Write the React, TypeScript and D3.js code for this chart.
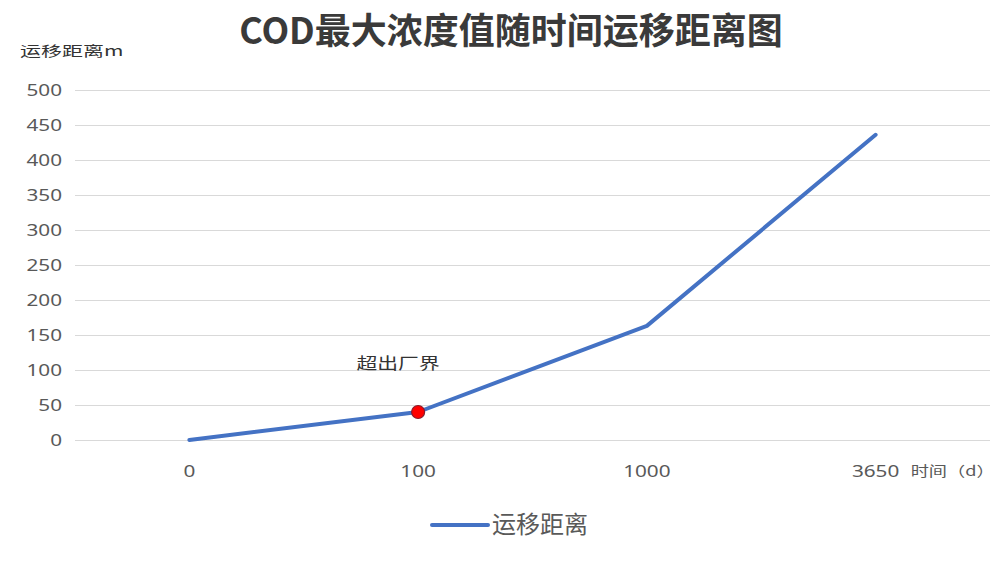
import React, { useEffect, useRef } from "react";
import * as d3 from "d3";

const categories = ["0", "100", "1000", "3650"];
const distance = [0, 40, 163, 436];
const yTicks = [0, 50, 100, 150, 200, 250, 300, 350, 400, 450, 500];
const highlightIndex = 1;
const highlightLabel = "超出厂界";
const seriesName = "运移距离";

const App: React.FC = () => {
  const svgRef = useRef<SVGSVGElement>(null);

  useEffect(() => {
    if (!svgRef.current) return;
    const width = 1000;
    const height = 561;
    const svg = d3.select(svgRef.current);
    svg.selectAll("*").remove();

    const margin = { top: 90, right: 10, bottom: 121, left: 75 };
    const chartWidth = width - margin.left - margin.right;
    const chartHeight = height - margin.top - margin.bottom;
    const font = "'Noto Sans', 'Noto Sans CJK SC', sans-serif";
    const cjk = "'Noto Sans CJK SC', 'Noto Sans', sans-serif";
    // the reference's small texts are drawn wider than normal
    const sx = 1.22;

    svg
      .append("rect")
      .attr("width", width)
      .attr("height", height)
      .attr("fill", "#fff");

    const g = svg
      .append("g")
      .attr("transform", `translate(${margin.left},${margin.top})`);

    const x = d3
      .scaleBand()
      .domain(categories)
      .range([0, chartWidth])
      .padding(0);

    const y = d3.scaleLinear().domain([0, 500]).range([chartHeight, 0]);

    // gridlines
    g.append("g")
      .selectAll("line")
      .data(yTicks)
      .enter()
      .append("line")
      .attr("x1", 0)
      .attr("x2", chartWidth)
      .attr("y1", (d) => Math.round(y(d)) + 0.5)
      .attr("y2", (d) => Math.round(y(d)) + 0.5)
      .attr("stroke", "#d9d9d9")
      .attr("stroke-width", 1);

    // y axis labels
    g.append("g")
      .selectAll("text")
      .data(yTicks)
      .enter()
      .append("text")
      .attr("transform", (d) => `translate(-13,${y(d)}) scale(${sx},1)`)
      .attr("dy", "0.35em")
      .attr("text-anchor", "end")
      .style("font-family", font)
      .style("font-size", "17px")
      .style("fill", "#595959")
      .text((d) => d);

    // x axis labels
    g.append("g")
      .selectAll("text")
      .data(categories)
      .enter()
      .append("text")
      .attr(
        "transform",
        (d) =>
          `translate(${(x(d) || 0) + x.bandwidth() / 2},${chartHeight + 31}) scale(${sx},1)`,
      )
      .attr("dy", "0.35em")
      .attr("text-anchor", "middle")
      .style("font-family", font)
      .style("font-size", "17px")
      .style("fill", "#595959")
      .text((d) => d);

    g.append("text")
      .attr(
        "transform",
        `translate(${(x(categories[3]) || 0) + x.bandwidth() / 2 + 35},${chartHeight + 31}) scale(1.3,1)`,
      )
      .attr("dy", "0.35em")
      .style("font-family", cjk)
      .style("font-size", "14px")
      .style("fill", "#595959")
      .text("时间（d）");

    const line = d3
      .line<number>()
      .x((_d, i) => (x(categories[i]) || 0) + x.bandwidth() / 2)
      .y((d) => y(d));

    g.append("path")
      .datum(distance)
      .attr("d", line)
      .attr("fill", "none")
      .attr("stroke", "#4472c4")
      .attr("stroke-width", 4)
      .attr("stroke-linejoin", "round")
      .attr("stroke-linecap", "round");

    const hx = (x(categories[highlightIndex]) || 0) + x.bandwidth() / 2;
    const hy = y(distance[highlightIndex]);
    g.append("circle")
      .attr("cx", hx)
      .attr("cy", hy)
      .attr("r", 6.5)
      .attr("fill", "#ff0000")
      .attr("stroke", "#8b1a2a")
      .attr("stroke-width", 1.2);

    g.append("text")
      .attr("transform", `translate(${hx - 20},${hy - 49}) scale(1.3,1)`)
      .attr("dy", "0.35em")
      .attr("text-anchor", "middle")
      .style("font-family", cjk)
      .style("font-size", "16px")
      .style("fill", "#333")
      .text(highlightLabel);

    // title
    svg
      .append("text")
      .attr("x", 511)
      .attr("y", 31)
      .attr("dy", "0.35em")
      .attr("text-anchor", "middle")
      .style("font-family", cjk)
      .style("font-size", "36px")
      .style("font-weight", "bold")
      .style("fill", "#3a3a3a")
      .text("COD最大浓度值随时间运移距离图");

    // y axis title
    svg
      .append("text")
      .attr("transform", "translate(20,51) scale(1.5,1)")
      .attr("dy", "0.35em")
      .style("font-family", cjk)
      .style("font-size", "14px")
      .style("fill", "#333")
      .text("运移距离m");

    // legend
    const legend = svg.append("g").attr("transform", "translate(432,525)");
    legend
      .append("line")
      .attr("x1", 0)
      .attr("x2", 56)
      .attr("y1", 0)
      .attr("y2", 0)
      .attr("stroke", "#4472c4")
      .attr("stroke-width", 4)
      .attr("stroke-linecap", "round");
    legend
      .append("text")
      .attr("x", 60)
      .attr("y", 0)
      .attr("dy", "0.35em")
      .style("font-family", cjk)
      .style("font-size", "24px")
      .style("fill", "#595959")
      .text(seriesName);
  }, []);

  return (
    <svg
      ref={svgRef}
      width={1000}
      height={561}
      style={{ position: "absolute", left: 0, top: 0, display: "block" }}
    />
  );
};

export default App;
